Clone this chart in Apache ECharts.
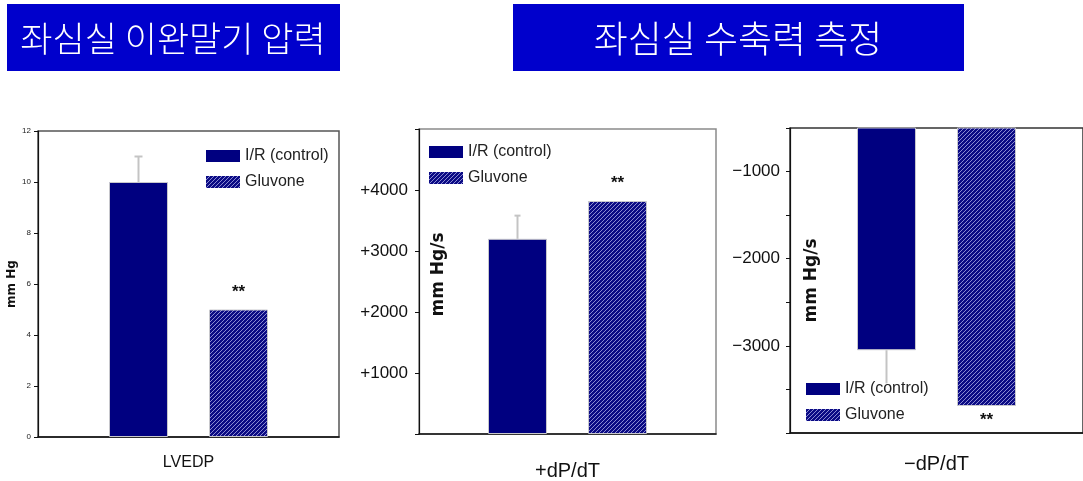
<!DOCTYPE html>
<html>
<head>
<meta charset="utf-8">
<title>좌심실 이완말기 압력 / 좌심실 수축력 측정</title>
<script src="https://cdn.jsdelivr.net/npm/echarts@6/dist/echarts.min.js"></script>
<style>
  html, body { margin: 0; padding: 0; background: #ffffff; }
  #chart { width: 1083px; height: 481px; }
</style>
</head>
<body>
<div id="chart"></div>
<script>
// ---- data ----
const seriesNames = ['I/R (control)', 'Gluvone'];

const lvedpCategory = ['LVEDP'];
const lvedpValues = [10, 5];          // mm Hg
const lvedpErrors = [1, 0];           // upper error bar length

const plusCategory = ['+dP/dT'];
const plusValues = [3200, 3820];      // mm Hg/s
const plusErrors = [380, 0];
const plusTickLabels = [1000, 2000, 3000, 4000];

const minusCategory = ['\u2212dP/dT'];
const minusValues = [-3050, -3690];   // mm Hg/s
const minusErrors = [-380, 0];
const minusTickLabels = [-1000, -2000, -3000];

const significance = ['', '**'];

// ---- hatch pattern for the Gluvone bars ----
function makeHatch() {
  const c = document.createElement('canvas');
  c.width = 4; c.height = 4;
  const ctx = c.getContext('2d');
  ctx.fillStyle = '#0b0b84';
  ctx.fillRect(0, 0, 4, 4);
  ctx.fillStyle = '#8a8ad2';
  for (let i = 0; i < 4; i++) ctx.fillRect(3 - i, i, 1, 1);
  return c;
}
const hatch = { image: makeHatch(), repeat: 'repeat' };
const navy = '#000080';
const barFills = [navy, hatch];

// ---- layout of the three panels ----
const BAR_W = 59, BAR_GAP_PX = 41;
const panels = [
  {
    grid: { left: 38, top: 131, width: 301, height: 306, borderColor: '#555', borderWidth: 1.5 },
    category: lvedpCategory, values: lvedpValues, errors: lvedpErrors,
    y: { min: 0, max: 12, interval: 2 },
    yLabel: { fontSize: 8, margin: 7, color: '#222', fontFamily: 'Liberation Sans',
              formatter: v => String(v) },
    yName: 'mm Hg', nameGap: 14, nameSize: 12, namePad: [0, 0, 0, 0],
    xLabel: { fontSize: 16, margin: 18 },
    legend: { left: 206, top: 147 },
    starPos: 'top', starDist: 9, cap: 4
  },
  {
    grid: { left: 419, top: 129, width: 297, height: 305, borderColor: '#8a8a8a', borderWidth: 1.5 },
    category: plusCategory, values: plusValues, errors: plusErrors,
    y: { min: 0, max: 5000, interval: 1000 },
    yLabel: { fontSize: 17, margin: 11, color: '#111', fontFamily: 'Liberation Sans',
              formatter: v => plusTickLabels.indexOf(v) >= 0 ? '+' + v : '' },
    yName: 'mm Hg/s', nameGap: -28, nameSize: 17, namePad: [0, 0, 0, 14],
    xLabel: { fontSize: 20, margin: 27 },
    legend: { left: 429, top: 143 },
    starPos: 'top', starDist: 9, cap: 3
  },
  {
    grid: { left: 790, top: 128, width: 296, height: 305, borderColor: '#333', borderWidth: 1.5 },
    category: minusCategory, values: minusValues, errors: minusErrors,
    y: { min: -4000, max: -500, interval: 500 },
    yLabel: { fontSize: 17, margin: 10, color: '#111', fontFamily: 'Liberation Sans',
              formatter: v => minusTickLabels.indexOf(v) >= 0 ? '\u2212' + Math.abs(v) : '' },
    yName: 'mm Hg/s', nameGap: -30, nameSize: 17, namePad: [0, 0, 0, 0],
    xLabel: { fontSize: 20, margin: 21 },
    legend: { left: 806, top: 380 },
    starPos: 'bottom', starDist: 6, cap: 0
  }
];

const grids = [], xAxes = [], yAxes = [], series = [], legends = [];

panels.forEach((p, pi) => {
  grids.push(Object.assign({ show: true, backgroundColor: 'transparent' }, p.grid));

  xAxes.push({
    type: 'category', gridIndex: pi, data: p.category,
    axisLine: { show: true, lineStyle: { color: '#111', width: 1.5 } },
    axisTick: { show: false },
    axisLabel: { color: '#111', fontFamily: 'Liberation Sans',
                 fontSize: p.xLabel.fontSize, margin: p.xLabel.margin },
    splitLine: { show: false }
  });

  yAxes.push({
    type: 'value', gridIndex: pi,
    min: p.y.min, max: p.y.max, interval: p.y.interval,
    name: p.yName, nameLocation: 'middle', nameRotate: 90, nameGap: p.nameGap,
    nameTextStyle: { fontFamily: 'DejaVu Sans', fontWeight: 'bold', fontSize: p.nameSize,
                     color: '#111', padding: p.namePad },
    axisLine: { show: true, lineStyle: { color: '#111', width: 1.2 } },
    axisTick: { show: true, inside: false, length: 4, lineStyle: { color: '#111' } },
    axisLabel: p.yLabel,
    splitLine: { show: false }
  });

  seriesNames.forEach((name, si) => {
    series.push({
      type: 'bar', name: name, xAxisIndex: pi, yAxisIndex: pi,
      data: [p.values[si]],
      barWidth: BAR_W, barGap: (BAR_GAP_PX / BAR_W * 100).toFixed(1) + '%',
      barCategoryGap: '40%',
      clip: true,
      itemStyle: { color: barFills[si], borderColor: '#c8c8cc', borderWidth: 1 },
      label: {
        show: significance[si] !== '', position: p.starPos, distance: p.starDist,
        formatter: () => significance[si],
        fontSize: 17, fontWeight: 'bold', color: '#111', fontFamily: 'Liberation Sans'
      },
      emphasis: { disabled: true },
      z: 2
    });
  });

  // error bars, centred on each bar
  const errData = [];
  p.errors.forEach((e, si) => {
    if (e !== 0) errData.push([0, p.values[si], p.values[si] + e, si]);
  });
  const cap = p.cap;
  series.push({
    type: 'custom', xAxisIndex: pi, yAxisIndex: pi,
    data: errData,
    encode: { x: 0, y: [1, 2] },
    renderItem: (params, api) => {
      const a = api.coord([api.value(0), api.value(1)]);
      const b = api.coord([api.value(0), api.value(2)]);
      const idx = api.value(3);
      const x = a[0] + (idx === 0 ? -1 : 1) * (BAR_W + BAR_GAP_PX) / 2;
      const style = { stroke: '#c4c4c4', lineWidth: 2 };
      const children = [
        { type: 'line', shape: { x1: x, y1: a[1], x2: x, y2: b[1] }, style: style }
      ];
      if (cap > 0) {
        children.push({ type: 'line', shape: { x1: x - cap, y1: b[1], x2: x + cap, y2: b[1] }, style: style });
      }
      return { type: 'group', children: children };
    },
    z: 3
  });

  legends.push({
    orient: 'vertical', left: p.legend.left, top: p.legend.top,
    padding: 0, itemGap: 8, itemWidth: 34, itemHeight: 12,
    icon: 'rect', data: seriesNames, selectedMode: false,
    itemStyle: { borderWidth: 0 },
    textStyle: { fontFamily: 'Liberation Sans', fontSize: 16, lineHeight: 18, color: '#222' },
    z: 10
  });
});

const chart = echarts.init(document.getElementById('chart'), null, { renderer: 'canvas' });
chart.setOption({
  animation: false,
  backgroundColor: '#ffffff',
  grid: grids, xAxis: xAxes, yAxis: yAxes, series: series, legend: legends,
  graphic: [
    { type: 'rect', left: 7, top: 4, shape: { width: 333, height: 67 },
      style: { fill: '#0000cc' }, z: 0 },
    { type: 'text', x: 173, y: 39,
      style: { text: '좌심실 이완말기 압력', fill: '#ffffff', fontSize: 35, fontWeight: 300,
               fontFamily: 'Noto Sans CJK KR', align: 'center', verticalAlign: 'middle' }, z: 1 },
    { type: 'rect', left: 513, top: 4, shape: { width: 451, height: 67 },
      style: { fill: '#0000cc' }, z: 0 },
    { type: 'text', x: 738, y: 39,
      style: { text: '좌심실 수축력 측정', fill: '#ffffff', fontSize: 37, fontWeight: 300,
               fontFamily: 'Noto Sans CJK KR', align: 'center', verticalAlign: 'middle' }, z: 1 }
  ]
});
</script>
</body>
</html>
